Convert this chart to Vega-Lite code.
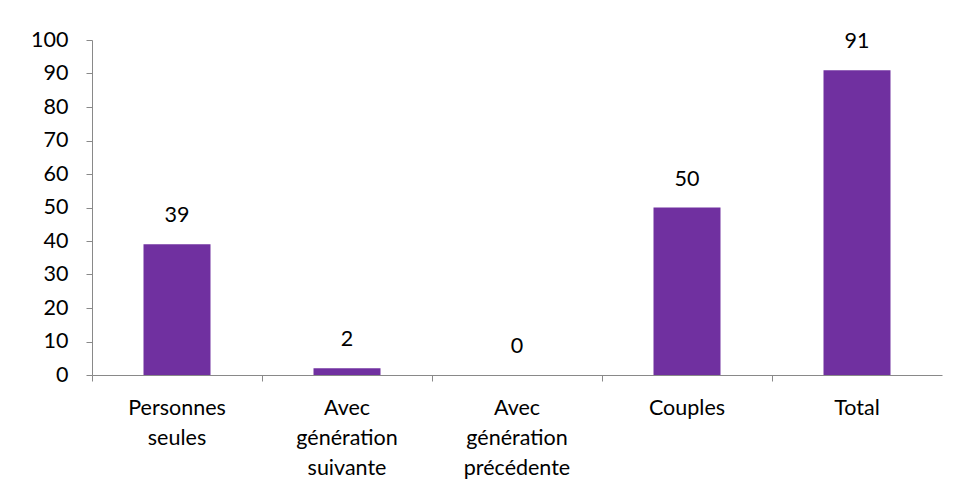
{
  "$schema": "https://vega.github.io/schema/vega-lite/v6.json",
  "autosize": "none",
  "width": 850,
  "height": 335,
  "padding": {"left": 92, "top": 40, "right": 21, "bottom": 126},
  "background": "white",
  "config": {"view": {"stroke": null}, "font": "Lato"},
  "data": {"values": [
    {"cat": "Personnes seules", "value": 39},
    {"cat": "Avec génération suivante", "value": 2},
    {"cat": "Avec génération précédente", "value": 0},
    {"cat": "Couples", "value": 50},
    {"cat": "Total", "value": 91}
  ]},
  "encoding": {
    "x": {"field": "cat", "type": "nominal", "sort": null,
      "scale": {"paddingInner": 0, "paddingOuter": 0},
      "axis": {"title": null, "labelAngle": 0, "labelFontSize": 21.5, "labelColor": "#000000",
        "labelFont": "Lato", "labelLineHeight": 30, "labelPadding": 16, "labelBaseline": "top",
        "domainColor": "#898989", "tickColor": "#898989", "tickSize": 6, "bandPosition": 0,
        "labelExpr": "datum.value == 'Personnes seules' ? ['Personnes','seules'] : (datum.value == 'Couples' || datum.value == 'Total' ? datum.value : split(datum.value, ' '))"}},
    "y": {"field": "value", "type": "quantitative",
      "scale": {"domain": [0, 100], "nice": false},
      "axis": {"title": null, "values": [0,10,20,30,40,50,60,70,80,90,100], "grid": false,
        "labelFontSize": 21.5, "labelColor": "#000000", "labelFont": "Lato", "labelPadding": 18,
        "domainColor": "#898989", "tickColor": "#898989", "tickSize": 6}}
  },
  "layer": [
    {"mark": {"type": "bar", "color": "#7030A0", "width": 67}},
    {"mark": {"type": "text", "fontSize": 21.5, "font": "Lato", "color": "#000000", "baseline": "middle", "dy": -28},
     "encoding": {"text": {"field": "value", "type": "quantitative"}}}
  ]
}
